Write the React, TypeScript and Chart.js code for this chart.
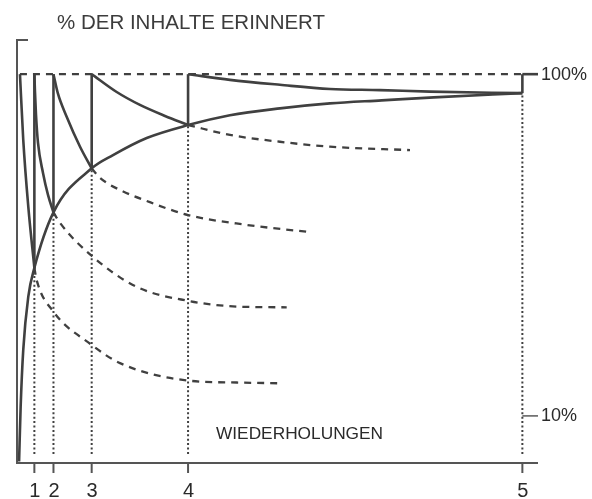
import { useEffect, useRef } from 'react';
import { Chart, registerables } from 'chart.js';

Chart.register(...registerables);

// ---- data (x = time units along the axis, y = % remembered) ----
const REPS = [1.0, 2.1, 4.3, 9.85, 29.1];
const REP_LABELS = ['1', '2', '3', '4', '5'];
const REP_RETENTION = [49.0, 63.6, 75.2, 86.6, 95.0];
const START_X = 0.17;
const Y_TICK_VALUES = [100, 10];
const Y_TICK_LABELS = ['100%', '10%'];
const TITLE = '% DER INHALTE ERINNERT';
const X_TITLE = 'WIEDERHOLUNGEN';

const RISE_X = [0.12, 0.21, 0.36, 0.65, 1.0, 2.1, 4.3, 5.53, 7.47, 9.85, 12.26, 15.14, 18.02, 21.0, 24.0, 29.1];
const RISE_Y = [-2.0, 12.4, 27.4, 41.4, 49.0, 63.6, 75.2, 78.7, 83.2, 86.6, 89.2, 91.0, 92.3, 93.1, 93.9, 95.0];

const DECAY0_X = [0.17, 0.36, 0.65, 1.0];
const DECAY0_Y = [100, 82.7, 65.1, 49.0];
const DECAY1_X = [1.0, 1.036, 1.094, 1.209, 1.497, 1.785, 2.1];
const DECAY1_Y = [100, 95.3, 89.3, 81.9, 74.0, 68.2, 63.6];
const DECAY2_X = [2.1, 2.35, 2.86, 3.63, 4.3];
const DECAY2_Y = [100, 95.0, 88.8, 80.9, 75.2];
const DECAY3_X = [4.3, 5.74, 7.08, 8.52, 9.85];
const DECAY3_Y = [100, 95.3, 91.9, 89.0, 86.6];
const DECAY4_X = [9.85, 12.26, 15.14, 18.02, 20.9, 23.78, 29.1];
const DECAY4_Y = [100, 98.5, 97.2, 96.1, 95.8, 95.4, 95.0];

const FORGET0_X = [1.0, 1.13, 2.09, 4.24, 5.93, 9.86, 12.65, 15.03];
const FORGET0_Y = [49.0, 45.8, 37.5, 28.9, 23.9, 19.3, 18.8, 18.6];
const FORGET1_X = [2.1, 2.48, 4.24, 6.89, 9.86, 12.65, 15.53];
const FORGET1_Y = [63.6, 60.8, 52.4, 44.0, 40.3, 38.8, 38.6];
const FORGET2_X = [4.3, 4.78, 5.93, 7.47, 9.85, 13.23, 16.68];
const FORGET2_Y = [75.2, 72.7, 69.5, 66.6, 62.9, 60.3, 58.5];
const FORGET3_X = [9.85, 12.26, 15.14, 18.02, 22.63];
const FORGET3_Y = [86.6, 84.0, 82.2, 80.9, 80.0];

const X_MIN = 0;
const X_MAX = 30;
const Y_MIN = -2.4;
const Y_MAX = 109;

const INK = '#404040';
const AXIS = '#555555';
const TEXT = '#2a2a2a';
const FONT = '"Liberation Sans", Arial, Helvetica, sans-serif';

type Style = 'solid' | 'dashed' | 'dotted';

function mk(xs: number[], ys: number[], style: Style, smooth = true) {
  return {
    data: xs.map((x, i) => ({ x, y: ys[i] })),
    borderColor: INK,
    borderWidth: style === 'solid' ? 2.6 : style === 'dashed' ? 2.3 : 2,
    borderDash: style === 'dashed' ? [7, 6] : style === 'dotted' ? [2, 2.4] : [],
    borderCapStyle: 'butt',
    pointRadius: 0,
    fill: false,
    tension: 0,
    cubicInterpolationMode: smooth ? 'monotone' : 'default',
    clip: false,
  } as any;
}

const decor = {
  id: 'decor',
  beforeDatasetsDraw(chart: any) {
    const { ctx, scales } = chart;
    const xs = scales.x;
    const ys = scales.y;
    const left = xs.getPixelForValue(X_MIN);
    const right = xs.getPixelForValue(X_MAX);
    const bottom = ys.getPixelForValue(Y_MIN);
    const top = ys.getPixelForValue(Y_MAX);
    ctx.save();
    ctx.strokeStyle = AXIS;
    ctx.lineWidth = 2;
    ctx.setLineDash([]);
    ctx.lineCap = 'butt';
    // y axis + top hook, x axis
    ctx.beginPath();
    ctx.moveTo(left + 11, top);
    ctx.lineTo(left, top);
    ctx.lineTo(left, bottom);
    ctx.lineTo(right, bottom);
    ctx.stroke();
    // x ticks
    REPS.forEach((r) => {
      const px = xs.getPixelForValue(r);
      ctx.beginPath();
      ctx.moveTo(px, bottom);
      ctx.lineTo(px, bottom + 10);
      ctx.stroke();
    });
    // right ticks
    const r5 = xs.getPixelForValue(REPS[REPS.length - 1]);
    Y_TICK_VALUES.forEach((v, i) => {
      const py = ys.getPixelForValue(v);
      ctx.strokeStyle = INK;
      ctx.lineWidth = i === 0 ? 2.6 : 1.3;
      ctx.beginPath();
      ctx.moveTo(r5, py);
      ctx.lineTo(right, py);
      ctx.stroke();
    });
    ctx.restore();
  },
  afterDraw(chart: any) {
    const { ctx, chartArea, scales } = chart;
    const xs = scales.x;
    const ys = scales.y;
    const bottom = ys.getPixelForValue(Y_MIN);
    const right = xs.getPixelForValue(X_MAX);
    ctx.save();
    ctx.fillStyle = TEXT;
    ctx.textBaseline = 'middle';
    // x tick labels
    ctx.font = `20px ${FONT}`;
    ctx.textAlign = 'center';
    REPS.forEach((r, i) => {
      ctx.fillText(REP_LABELS[i], xs.getPixelForValue(r) + 0.5, bottom + 28);
    });
    // right labels
    ctx.font = `18px ${FONT}`;
    ctx.textAlign = 'left';
    Y_TICK_VALUES.forEach((v, i) => {
      ctx.fillText(Y_TICK_LABELS[i], right + 3, ys.getPixelForValue(v) + 0.5);
    });
    // titles
    ctx.fillStyle = '#3c3c3c';
    ctx.font = `20.5px ${FONT}`;
    ctx.fillText(TITLE, chartArea.left + 40, 23);
    ctx.fillStyle = TEXT;
    ctx.font = `17.3px ${FONT}`;
    ctx.fillText(X_TITLE, chartArea.left + 199, bottom - 29);
    ctx.restore();
  },
};

export default function App() {
  const ref = useRef<HTMLCanvasElement>(null);
  useEffect(() => {
    document.body.style.margin = '0';
    const canvas = ref.current;
    if (!canvas) return;
    const datasets: any[] = [];
    // solid
    datasets.push(mk(RISE_X, RISE_Y, 'solid'));
    datasets.push(mk(DECAY0_X, DECAY0_Y, 'solid'));
    datasets.push(mk(DECAY1_X, DECAY1_Y, 'solid'));
    datasets.push(mk(DECAY2_X, DECAY2_Y, 'solid'));
    datasets.push(mk(DECAY3_X, DECAY3_Y, 'solid'));
    datasets.push(mk(DECAY4_X, DECAY4_Y, 'solid'));
    REPS.forEach((r, i) => datasets.push(mk([r, r], [REP_RETENTION[i], 100], 'solid', false)));
    // dashed
    datasets.push(mk([START_X, REPS[REPS.length - 1]], [100, 100], 'dashed', false));
    datasets.push(mk(FORGET0_X, FORGET0_Y, 'dashed'));
    datasets.push(mk(FORGET1_X, FORGET1_Y, 'dashed'));
    datasets.push(mk(FORGET2_X, FORGET2_Y, 'dashed'));
    datasets.push(mk(FORGET3_X, FORGET3_Y, 'dashed'));
    // dotted
    REPS.forEach((r, i) => datasets.push(mk([r, r], [0, REP_RETENTION[i]], 'dotted', false)));

    const chart = new Chart(canvas, {
      type: 'line',
      data: { datasets },
      plugins: [decor],
      options: {
        responsive: false,
        maintainAspectRatio: false,
        animation: false,
        events: [],
        layout: { padding: { left: 17, top: 40, right: 54, bottom: 36 } },
        scales: {
          x: { type: 'linear', min: X_MIN, max: X_MAX, display: false },
          y: { type: 'linear', min: Y_MIN, max: Y_MAX, display: false },
        },
        plugins: { legend: { display: false }, tooltip: { enabled: false } },
        elements: { point: { radius: 0 } },
      },
    } as any);
    return () => chart.destroy();
  }, []);
  return (
    <div style={{ position: 'absolute', left: 0, top: 0, width: 592, height: 499 }}>
      <canvas ref={ref} width={592} height={499} style={{ display: 'block', width: 592, height: 499 }} />
    </div>
  );
}
